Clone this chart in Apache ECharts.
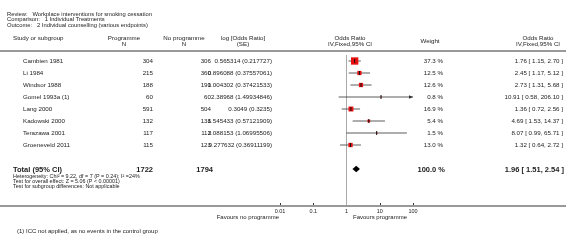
<!DOCTYPE html>
<html>
<head>
<meta charset="utf-8">
<script src="https://cdn.jsdelivr.net/npm/echarts@6/dist/echarts.min.js"></script>
<style>
  html, body { margin: 0; padding: 0; background: #fff; }
  #forest { width: 566px; height: 241px; }
</style>
</head>
<body>
<div id="forest"></div>
<script>
// study rows
var studies = ['Cambien 1981', 'Li 1984', 'Windsor 1988', 'Gomel 1993a (1)', 'Lang 2000', 'Kadowski 2000', 'Terazawa 2001', 'Groeneveld 2011'];
var progN = [304, 215, 188, 60, 591, 132, 117, 115];
var noProgN = [306, 360, 190, 60, 504, 138, 113, 123];
var logOR = ['0.565314', '0.896088', '1.004302', '2.38968', '0.3049', '1.545433', '2.088153', '0.277632'];
var logSE = ['0.217727', '0.37557061', '0.37421533', '1.49934846', '0.3235', '0.57121909', '1.06995506', '0.36911199'];
var weights = [37.3, 12.5, 12.6, 0.8, 16.9, 5.4, 1.5, 13.0];
var oddsRatio = [1.76, 2.45, 2.73, 10.91, 1.36, 4.69, 8.07, 1.32];
var ciLow = [1.15, 1.17, 1.31, 0.58, 0.72, 1.53, 0.99, 0.64];
var ciHigh = [2.70, 5.12, 5.68, 206.10, 2.56, 14.37, 65.71, 2.72];

// pooled estimate
var totalProgN = 1722;
var totalNoProgN = 1794;
var totalOR = 1.96, totalLow = 1.51, totalHigh = 2.54;
var totalRow = 9;

var axisTicks = [0.01, 0.1, 1, 10, 100];

var FONT = '"Liberation Sans", Arial, sans-serif';
var AX_MIN = 0.01, AX_MAX = 100;

function f2(v) { return v.toFixed(2); }
function orText(o, l, h) { return f2(o) + ' [ ' + f2(l) + ', ' + f2(h) + ' ]'; }

function txt(x, y, s, size, align, bold) {
  return {
    type: 'text', x: x, y: y, silent: true,
    style: {
      text: s, fill: '#222',
      font: (bold ? 'bold ' : '') + size + 'px ' + FONT,
      align: align || 'left', textAlign: align || 'left',
      verticalAlign: 'middle', textVerticalAlign: 'middle'
    }
  };
}

var chart = echarts.init(document.getElementById('forest'));

var rowIdx = studies.map(function (s, i) { return [i]; });

function renderTable(params, api) {
  var i = api.value(0);
  var y = api.coord([1, i])[1];
  return {
    type: 'group',
    children: [
      txt(23, y, studies[i], 6.2, 'left'),
      txt(153, y, String(progN[i]), 6.2, 'right'),
      txt(211, y, String(noProgN[i]), 6.2, 'right'),
      txt(272, y, logOR[i] + ' (' + logSE[i] + ')', 6.2, 'right'),
      txt(443, y, weights[i].toFixed(1) + ' %', 6.2, 'right'),
      txt(563, y, orText(oddsRatio[i], ciLow[i], ciHigh[i]), 6.2, 'right')
    ]
  };
}

function renderCI(params, api) {
  var i = api.value(0);
  var lo = Math.max(ciLow[i], AX_MIN), hi = Math.min(ciHigh[i], AX_MAX);
  var p1 = api.coord([lo, i]), p2 = api.coord([hi, i]);
  var pt = api.coord([oddsRatio[i], i]);
  var kids = [{
    type: 'line', shape: { x1: p1[0], y1: p1[1], x2: p2[0], y2: p2[1] },
    style: { stroke: '#333', lineWidth: 0.8 }
  }];
  if (ciHigh[i] > AX_MAX) {
    kids.push({ type: 'polygon', shape: { points: [[p2[0], p2[1]], [p2[0] - 4, p2[1] - 1.8], [p2[0] - 4, p2[1] + 1.8]] }, style: { fill: '#333' } });
  }
  if (ciLow[i] < AX_MIN) {
    kids.push({ type: 'polygon', shape: { points: [[p1[0], p1[1]], [p1[0] + 4, p1[1] - 1.8], [p1[0] + 4, p1[1] + 1.8]] }, style: { fill: '#333' } });
  }
  var s = 1.2 * Math.sqrt(weights[i]);
  kids.push({ type: 'rect', shape: { x: pt[0] - s / 2, y: pt[1] - s / 2, width: s, height: s }, style: { fill: '#e81010' } });
  kids.push({ type: 'line', shape: { x1: pt[0], y1: pt[1] - 2, x2: pt[0], y2: pt[1] + 2 }, style: { stroke: '#111', lineWidth: 1 } });
  return { type: 'group', children: kids };
}

function renderDiamond(params, api) {
  var c = api.coord([totalOR, totalRow]);
  var l = api.coord([totalLow, totalRow]);
  var r = api.coord([totalHigh, totalRow]);
  return {
    type: 'polygon',
    shape: { points: [[l[0], c[1]], [c[0], c[1] - 3.2], [r[0], c[1]], [c[0], c[1] + 3.2]] },
    style: { fill: '#000' }
  };
}

function renderRef(params, api) {
  var a = api.coord([1, -0.5]), b = api.coord([1, 12]);
  return { type: 'line', shape: { x1: a[0], y1: a[1], x2: b[0], y2: b[1] }, style: { stroke: '#aaa', lineWidth: 1 } };
}

var option = {
  animation: false,
  grid: { left: 280, right: 153, top: 52, bottom: 36 },
  xAxis: {
    type: 'log', logBase: 10, min: AX_MIN, max: AX_MAX,
    axisLine: { show: false, onZero: false },
    axisTick: { show: true, inside: true, length: 2, lineStyle: { color: '#333' } },
    axisLabel: {
      fontSize: 5.5, fontFamily: FONT, color: '#222', margin: 3,
      formatter: function (v) { return String(axisTicks.find(function (t) { return Math.abs(t - v) / t < 1e-6; }) || v); }
    },
    splitLine: { show: false }
  },
  yAxis: { type: 'value', min: -0.75, max: 12, inverse: true, show: false },
  graphic: [
    txt(7, 14, 'Review:   Workplace interventions for smoking cessation', 5.8),
    txt(7, 19.5, 'Comparison:   1 Individual Treatments', 5.8),
    txt(7, 25, 'Outcome:   2 Individual counselling (various endpoints)', 5.8),
    txt(13, 38, 'Study or subgroup', 6.2),
    txt(124, 38, 'Programme', 6.2, 'center'),
    txt(124, 44, 'N', 6.2, 'center'),
    txt(184, 38, 'No programme', 6.2, 'center'),
    txt(184, 44, 'N', 6.2, 'center'),
    txt(243, 38, 'log [Odds Ratio]', 6.2, 'center'),
    txt(243, 44, '(SE)', 6.2, 'center'),
    txt(350, 38, 'Odds Ratio', 6.2, 'center'),
    txt(350, 44, 'IV,Fixed,95% CI', 6.2, 'center'),
    txt(430, 41, 'Weight', 6.2, 'center'),
    txt(538, 38, 'Odds Ratio', 6.2, 'center'),
    txt(538, 44, 'IV,Fixed,95% CI', 6.2, 'center'),
    { type: 'line', shape: { x1: 0, y1: 51, x2: 566, y2: 51 }, style: { stroke: '#999', lineWidth: 2 }, silent: true },
    { type: 'line', shape: { x1: 0, y1: 206, x2: 566, y2: 206 }, style: { stroke: '#999', lineWidth: 2 }, silent: true },
    txt(13, 170, 'Total (95% CI)', 7.5, 'left', true),
    txt(153, 170, String(totalProgN), 7.5, 'right', true),
    txt(213, 170, String(totalNoProgN), 7.5, 'right', true),
    txt(445, 170, '100.0 %', 7.5, 'right', true),
    txt(564, 170, orText(totalOR, totalLow, totalHigh), 7.5, 'right', true),
    txt(13, 176.5, 'Heterogeneity: Chi\u00b2 = 9.22, df = 7 (P = 0.24); I\u00b2 =24%', 5.4),
    txt(13, 181.5, 'Test for overall effect: Z = 5.06 (P < 0.00001)', 5.4),
    txt(13, 186.5, 'Test for subgroup differences: Not applicable', 5.4),
    txt(279, 217, 'Favours no programme', 6, 'right'),
    txt(380, 217, 'Favours programme', 6, 'center'),
    txt(17, 231, '(1) ICC not applied, as no events in the control group', 6)
  ],
  series: [
    { type: 'custom', name: 'ref', renderItem: renderRef, data: [[0]], silent: true, clip: false, z: 1 },
    { type: 'custom', name: 'studies', renderItem: renderCI, data: rowIdx, silent: true, clip: false, z: 3 },
    { type: 'custom', name: 'total', renderItem: renderDiamond, data: [[totalRow]], silent: true, clip: false, z: 3 },
    { type: 'custom', name: 'table', renderItem: renderTable, data: rowIdx, silent: true, clip: false, z: 4 }
  ]
};

chart.setOption(option);
</script>
</body>
</html>
